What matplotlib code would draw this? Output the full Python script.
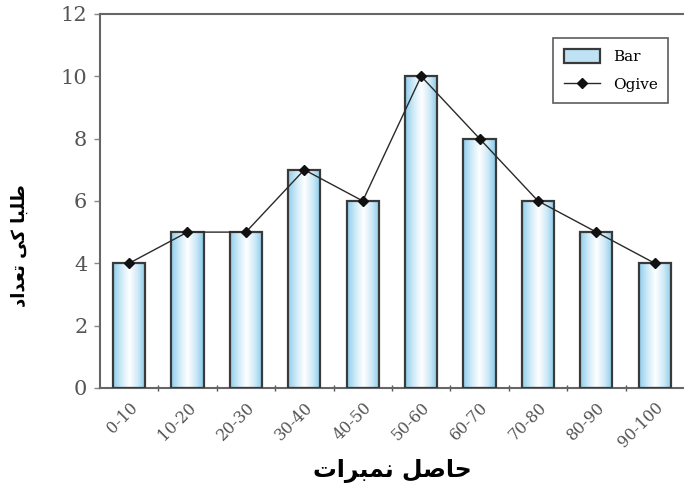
import numpy as np
import matplotlib
matplotlib.use("Agg")
import matplotlib.pyplot as plt
from matplotlib.colors import LinearSegmentedColormap
from matplotlib.patches import Rectangle

# Class intervals and number of students
classes = ["0-10", "10-20", "20-30", "30-40", "40-50",
           "50-60", "60-70", "70-80", "80-90", "90-100"]
students = [4, 5, 5, 7, 6, 10, 8, 6, 5, 4]
y_ticks = [0, 2, 4, 6, 8, 10, 12]

# Urdu labels written with Arabic presentation forms, in visual order
xlabel_text = "\uFE95\uFE8D\uFEAE\uFE92\uFEE4\uFEE7 \uFEDE\uFEBB\uFE8E\uFEA3"
ylabel_text = "\uFEA9\uFE8D\uFEAA\uFECC\uFE97 \uFBFD\uFB90 \uFE8E\uFE92\uFEE0\uFEC3"

fig = plt.figure(figsize=(6.84, 4.98), dpi=100)
ax = fig.add_axes([0.146, 0.221, 0.854, 0.751])

x = np.arange(len(classes))
width = 0.55

bar_cmap = LinearSegmentedColormap.from_list(
    "barfill", ["#8fcdeb", "#cdeaf8", "#ffffff", "#cfeaf8", "#86c8e8"])
grad = np.linspace(0, 1, 256).reshape(1, -1)

bars = ax.bar(x, students, width=width, facecolor="none",
              edgecolor="#3a3a3a", linewidth=1.6, zorder=3, label="Bar")
for b in bars:
    x0, y0 = b.get_x(), b.get_y()
    w, h = b.get_width(), b.get_height()
    im = ax.imshow(grad, cmap=bar_cmap, aspect="auto",
                   extent=[x0, x0 + w, y0, y0 + h], zorder=2,
                   interpolation="bilinear")
    im.set_clip_path(Rectangle((x0, y0), w, h, transform=ax.transData))

line, = ax.plot(x, students, color="#2a2a2a", linewidth=1.0, marker="D",
                markersize=5.5, markerfacecolor="#111111",
                markeredgecolor="#111111", zorder=4, label="Ogive")

ax.set_xlim(-0.5, len(classes) - 0.5)
ax.set_ylim(0, 12)

ax.set_xticks(x)
ax.set_xticklabels(classes, rotation=45, ha="right", rotation_mode="anchor",
                   fontsize=11.5, color="#555555", family="DejaVu Serif")
ax.set_xticks(x[:-1] + 0.5, minor=True)
ax.tick_params(axis="x", which="major", length=0, pad=8)
ax.tick_params(axis="x", which="minor", length=5, direction="inout",
               width=1.0, color="#555555")

ax.set_yticks(y_ticks)
ax.set_yticklabels([str(v) for v in y_ticks], fontsize=15, color="#555555",
                   family="DejaVu Serif")
ax.tick_params(axis="y", length=4, width=1.0, color="#888888", pad=5)

for side in ("left", "top", "bottom"):
    ax.spines[side].set_color("#666666")
    ax.spines[side].set_linewidth(1.5)
ax.spines["right"].set_visible(False)

ax.set_xlabel(xlabel_text, fontsize=17, fontweight="bold",
              family=["DejaVu Sans", "Noto Sans"], labelpad=6)
ax.set_ylabel(ylabel_text, fontsize=13, fontweight="bold",
              family=["DejaVu Sans", "Noto Sans"], va="center")
ax.yaxis.set_label_coords(-0.137, 0.38)

leg = ax.legend([bars, line], ["Bar", "Ogive"], loc="upper right",
                bbox_to_anchor=(0.973, 0.936), borderaxespad=0,
                frameon=True, fancybox=False, edgecolor="#333333",
                prop={"family": "DejaVu Serif", "size": 11},
                handlelength=2.4, handleheight=1.1, borderpad=0.7,
                labelspacing=0.8, handletextpad=0.8)
leg.get_frame().set_linewidth(1.2)
for h in leg.legend_handles:
    if isinstance(h, Rectangle):
        h.set_facecolor("#bfe3f5")

fig.savefig("out.png", dpi=100)
